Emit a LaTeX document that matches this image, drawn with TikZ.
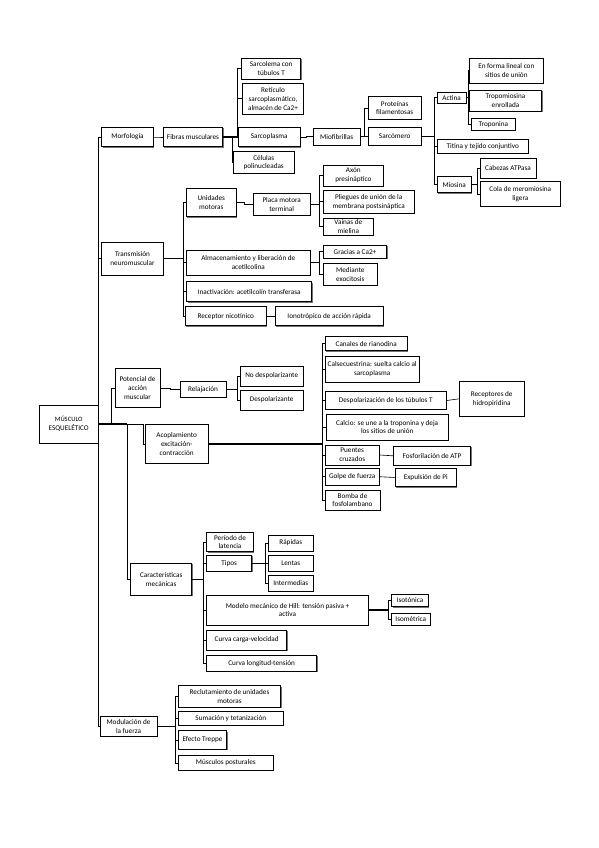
\documentclass[tikz,border=0pt]{standalone}
\usepackage{fontspec}
\setmainfont{Carlito}
\usetikzlibrary{shadows}
\tikzset{
  box/.style={draw=black, line width=0.6pt, fill=white, align=center, inner sep=1pt,
    font=\fontsize{7.2}{8.8}\selectfont,
    drop shadow={shadow xshift=0.8pt, shadow yshift=-0.8pt, fill=black, opacity=0.55}},
  conn/.style={draw=black, line width=0.6pt},
  stub/.style={draw=black, line width=1.4pt},
}
\newcommand{\bx}[6]{\node[box, minimum width=#4pt, minimum height=#5pt] (#1) at (#2,#3) {#6};}
\begin{document}
\begin{tikzpicture}[x=1pt,y=-1pt]
\useasboundingbox[fill=white] (0,0) rectangle (599,848);
% spine
\draw[conn] (98.2,137) -- (98.2,726);
% nodes
\bx{root}{68.7}{424}{59}{38}{\fontsize{6.6}{8}\selectfont MÚSCULO\\ESQUELÉTICO}
\bx{morf}{127.5}{137}{51.6}{19.4}{Morfología}
\bx{trans}{132.5}{258.3}{61.6}{33}{Transmisión\\neuromuscular}
\bx{pot}{137.5}{387.8}{45}{39}{Potencial de\\acción\\muscular}
\bx{acop}{176.7}{443.8}{63.3}{39}{Acoplamiento\\excitación-\\contracción}
\bx{carac}{161.2}{579.2}{61}{31.7}{Características\\mecánicas}
\bx{modu}{128.5}{726.2}{57}{20.5}{Modulación de\\la fuerza}
% Morfologia
\bx{fibras}{193}{137}{59.4}{19.4}{Fibras musculares}
\bx{sarcolema}{271.2}{68.8}{59}{21}{Sarcolema con\\túbulos T}
\bx{reticulo}{273}{98.8}{60.6}{31}{Retículo\\sarcoplasmático,\\almacén de Ca2+}
\bx{sarcoplasma}{269.2}{137}{61.7}{19.4}{Sarcoplasma}
\bx{celulas}{263.7}{162.5}{60.7}{21.6}{Células\\polinucleadas}
\bx{miofib}{336.7}{136.7}{46.7}{17}{Miofibrillas}
\bx{proteinas}{394.7}{108}{52.7}{22.6}{Proteínas\\filamentosas}
\bx{sarcomero}{394.7}{136.2}{52.7}{17.7}{Sarcómero}
\bx{actina}{451.7}{97.7}{28.7}{11}{Actina}
\bx{titina}{482.8}{146.3}{91}{14}{Titina y tejido conjuntivo}
\bx{miosina}{454.2}{184.7}{33.7}{16}{Miosina}
\bx{lineal}{506.3}{70.8}{74}{25}{En forma lineal con\\sitios de unión}
\bx{tropomiosina}{505.5}{100.8}{72.4}{21.7}{Tropomiosina\\enrollada}
\bx{troponina}{493.3}{124.2}{43.3}{11.7}{Troponina}
\bx{cabezas}{508}{168.3}{56}{20}{Cabezas ATPasa}
\bx{cola}{520.3}{193.8}{80.7}{25.7}{Cola de meromiosina\\ligera}
% Transmision
\bx{unidades}{211.3}{202.5}{49.3}{28.4}{Unidades\\motoras}
\bx{almac}{248.3}{262.5}{123.3}{25}{Almacenamiento y liberación de\\acetilcolina}
\bx{inact}{249.2}{291.7}{125}{20}{Inactivación: acetilcolín transferasa}
\bx{receptor}{225.8}{316.2}{81.7}{19}{Receptor nicotínico}
\bx{ionotropico}{329.2}{316.2}{108.3}{19}{Ionotrópico de acción rápida}
\bx{placa}{281.7}{204.2}{56.7}{21.7}{Placa motora\\terminal}
\bx{axon}{353.3}{175.5}{60}{21}{Axón\\presináptico}
\bx{pliegues}{368.7}{201.7}{90.7}{23.3}{Pliegues de unión de la\\membrana postsináptica}
\bx{vainas}{348.3}{226.7}{50}{16.7}{Vainas de\\mielina}
\bx{gracias}{355}{251.7}{63.4}{13.3}{Gracias a Ca2+}
\bx{mediante}{350.3}{274.2}{54}{21.7}{Mediante\\exocitosis}
% Potencial
\bx{relaj}{203}{389.5}{46}{15.6}{Relajación}
\bx{nodesp}{271.7}{376}{63.3}{20}{No despolarizante}
\bx{desp}{271.7}{400}{63.3}{20}{Despolarizante}
% Acoplamiento
\bx{canales}{366.2}{343.7}{82.3}{14}{Canales de rianodina}
\bx{calsec}{372.2}{369.3}{94.3}{26.7}{Calsecuestrina: suelta calcio al\\sarcoplasma}
\bx{despT}{385.8}{400.5}{121.7}{17.6}{Despolarización de los túbulos T}
\bx{calcio}{387.2}{427}{122.3}{26}{Calcio: se une a la troponina y deja\\los sitios de unión}
\bx{puentes}{352.2}{455}{54.3}{20}{Puentes\\cruzados}
\bx{golpe}{352.2}{476.7}{54.3}{16.7}{Golpe de fuerza}
\bx{bomba}{352.5}{500}{55}{20}{Bomba de\\fosfolambano}
\bx{recept}{491.7}{398.8}{64.7}{34.3}{Receptores de\\hidropiridina}
\bx{fosfo}{432}{455.8}{77.4}{18.3}{Fosforilación de ATP}
\bx{expul}{425.8}{477.5}{61.7}{18.4}{Expulsión de Pi}
% Caracteristicas
\bx{periodo}{230}{542}{46.6}{19.4}{Período de\\latencia}
\bx{tipos}{229.2}{563.3}{45}{15.3}{Tipos}
\bx{hill}{287.5}{610}{161.6}{30}{Modelo mecánico de Hill: tensión pasiva +\\activa}
\bx{cargav}{246.7}{640}{80}{20}{Curva carga-velocidad}
\bx{longt}{261.7}{663.3}{110}{16.7}{Curva longitud-tensión}
\bx{rapidas}{290.8}{543}{45}{16}{Rápidas}
\bx{lentas}{290.8}{563}{45}{16}{Lentas}
\bx{interm}{290.8}{583}{45}{16}{Intermedias}
\bx{isoton}{410}{600.5}{36.6}{12.4}{Isotónica}
\bx{isomet}{410.8}{619.2}{38.3}{11.7}{Isométrica}
% Modulacion
\bx{reclut}{229.5}{696.6}{102.4}{21.8}{Reclutamiento de unidades\\motoras}
\bx{sumac}{230.8}{718.3}{105}{13.3}{Sumación y tetanización}
\bx{treppe}{202.5}{740}{48.4}{18.6}{Efecto Treppe}
\bx{postur}{225.8}{762.8}{95}{15.7}{Músculos posturales}

% ---------- connectors ----------
% root
\draw[conn] (root.east) |- (morf.west);
\draw[conn] (root.east) |- (trans.west);
\draw[conn] (root.east) |- (modu.west);
\draw[conn] (root.east) -- ++(12.8,0) |- (pot.west);
\draw[conn] (root.east) -- ++(28.5,0) |- (carac.west);
\draw[conn] (root.east) -- ++(45,0) |- (acop.west);
\draw[stub] (root.east) -- ++(28.5,0);
% morfologia
\draw[conn] (morf.east) -- ++(5,0) |- (fibras.west);
\draw[conn] (fibras.east) -- ++(14,0) |- (sarcolema.west);
\draw[conn] (fibras.east) -- ++(14,0) |- (reticulo.west);
\draw[conn] (fibras.east) -- ++(14,0) |- (sarcoplasma.west);
\draw[conn] (fibras.east) -- ++(9,0) |- (celulas.west);
\draw[stub] (fibras.east) -- ++(14,0);
\draw[conn] (sarcoplasma.east) -- ++(6,0) |- (miofib.west);
\draw[conn] (miofib.east) -- ++(3.5,0) |- (proteinas.west);
\draw[conn] (miofib.east) -- ++(3.5,0) |- (sarcomero.west);
\draw[conn] (sarcomero.east) -- ++(13,0) |- (actina.west);
\draw[conn] (sarcomero.east) -- ++(13,0) |- (titina.west);
\draw[conn] (sarcomero.east) -- ++(13,0) |- (miosina.west);
\draw[stub] (sarcomero.east) -- ++(13,0);
\draw[conn] (actina.east) -- ++(1.8,0) |- (lineal.west);
\draw[conn] (actina.east) -- ++(1.8,0) |- (tropomiosina.west);
\draw[conn] (actina.east) -- ++(1.8,0) |- (troponina.west);
\draw[conn] (miosina.east) -- ++(5.5,0) |- (cabezas.west);
\draw[conn] (miosina.east) -- ++(5.5,0) |- (cola.west);
\draw[stub] (miosina.east) -- ++(5.5,0);
% transmision
\draw[conn] (trans.east) -- ++(19.4,0) |- (unidades.west);
\draw[conn] (trans.east) -- ++(19.4,0) |- (almac.west);
\draw[conn] (trans.east) -- ++(19.4,0) |- (inact.west);
\draw[conn] (trans.east) -- ++(19.4,0) |- (receptor.west);
\draw[stub] (trans.east) -- ++(19.4,0);
\draw[conn] (unidades.east) -- ++(8,0) |- (placa.west);
\draw[conn] (placa.east) -- ++(9.3,0) |- (axon.west);
\draw[conn] (placa.east) -- ++(9.3,0) |- (pliegues.west);
\draw[conn] (placa.east) -- ++(9.3,0) |- (vainas.west);
\draw[stub] (placa.east) -- ++(9.3,0);
\draw[conn] (almac.east) -- ++(9.3,0) |- (gracias.west);
\draw[conn] (almac.east) -- ++(9.3,0) |- (mediante.west);
\draw[stub] (almac.east) -- ++(9.3,0);
\draw[conn] (receptor.east) -- (ionotropico.west);
% potencial
\draw[conn] (pot.east) -- ++(10,0) |- (relaj.west);
\draw[conn] (relaj.east) -- ++(10.7,0) |- (nodesp.west);
\draw[conn] (relaj.east) -- ++(10.7,0) |- (desp.west);
\draw[stub] (relaj.east) -- ++(10.7,0);
% acoplamiento
\draw[conn] (acop.east) -- ++(113.4,0) |- (canales.west);
\draw[conn] (acop.east) -- ++(113.4,0) |- (calsec.west);
\draw[conn] (acop.east) -- ++(113.4,0) |- (despT.west);
\draw[conn] (acop.east) -- ++(113.4,0) |- (calcio.west);
\draw[conn] (acop.east) -- ++(113.4,0) |- (puentes.west);
\draw[conn] (acop.east) -- ++(113.4,0) |- (golpe.west);
\draw[conn] (acop.east) -- ++(113.4,0) |- (bomba.west);
\draw[stub] (acop.east) -- ++(113.4,0);
\draw[conn] (despT.east) -- (recept.west);
\draw[conn] (puentes.east) -- (fosfo.west);
\draw[conn] (golpe.east) -- (expul.west);
% caracteristicas
\draw[conn] (carac.east) -- ++(11.6,0) |- (periodo.west);
\draw[conn] (carac.east) -- ++(11.6,0) |- (tipos.west);
\draw[conn] (carac.east) -- ++(11.6,0) |- (hill.west);
\draw[conn] (carac.east) -- ++(11.6,0) |- (cargav.west);
\draw[conn] (carac.east) -- ++(11.6,0) |- (longt.west);
\draw[stub] (carac.east) -- ++(11.6,0);
\draw[conn] (tipos.east) -- ++(13.3,0) |- (rapidas.west);
\draw[conn] (tipos.east) -- ++(13.3,0) |- (lentas.west);
\draw[conn] (tipos.east) -- ++(13.3,0) |- (interm.west);
\draw[stub] (tipos.east) -- ++(13.3,0);
\draw[conn] (hill.east) -- ++(20,0) |- (isoton.west);
\draw[conn] (hill.east) -- ++(20,0) |- (isomet.west);
\draw[stub] (hill.east) -- ++(20,0);
% modulacion
\draw[conn] (modu.east) -- ++(18,0) |- (reclut.west);
\draw[conn] (modu.east) -- ++(18,0) |- (sumac.west);
\draw[conn] (modu.east) -- ++(18,0) |- (treppe.west);
\draw[conn] (modu.east) -- ++(18,0) |- (postur.west);
\draw[stub] (modu.east) -- ++(18,0);
\end{tikzpicture}
\end{document}
